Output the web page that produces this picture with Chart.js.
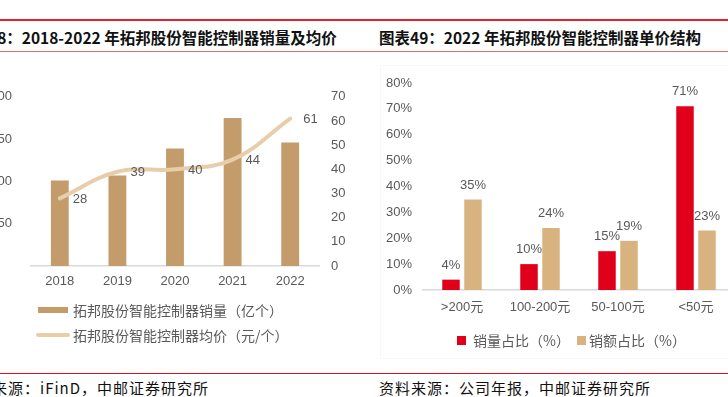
<!DOCTYPE html>
<html>
<head>
<meta charset="utf-8">
<script src="https://cdn.jsdelivr.net/npm/chart.js@4.4.0/dist/chart.umd.min.js"></script>
<style>
  body { margin: 0; width: 728px; height: 397px; overflow: hidden; background: #fff; position: relative;
         font-family: "Noto Sans CJK SC", sans-serif; }
  .rule { position: absolute; left: 0; width: 728px; }
  .title { position: absolute; top: 27px; line-height: 20px; font-size: 15.5px; font-weight: bold; color: #111; white-space: nowrap; }
  .src { position: absolute; top: 379px; line-height: 18px; font-size: 15px; color: #111; letter-spacing: 1px; white-space: nowrap; }
  .lg { position: absolute; font-size: 14px; line-height: 18px; color: #595959; white-space: nowrap; }
  .sw { position: absolute; }
  canvas { position: absolute; }
</style>
</head>
<body>
<div class="rule" style="top:19px;height:2px;background:#E2232C"></div>
<div class="rule" style="top:51px;height:1px;background:#E46A6F"></div>
<div class="rule" style="top:373px;height:1px;background:#D9141E"></div>

<div class="title" style="left:-43px">图表48：2018-2022 年拓邦股份智能控制器销量及均价</div>
<div class="title" style="left:379px">图表49：2022 年拓邦股份智能控制器单价结构</div>

<div style="position:absolute;left:380px;top:65px;width:400px;height:292px;border:1px solid #F8F8F8"></div>

<div class="wrap" style="position:absolute;left:-30px;top:70px;width:390px;height:225px">
  <canvas id="chart-volume"></canvas>
</div>
<div class="wrap" style="position:absolute;left:364px;top:60px;width:380px;height:260px">
  <canvas id="chart-structure"></canvas>
</div>

<div class="sw" style="left:38px;top:307px;width:30px;height:6px;background:#C49C6C"></div>
<div class="lg" style="left:73px;top:301px">拓邦股份智能控制器销量（亿个）</div>
<div class="sw" style="left:36px;top:333px;width:34px;height:4px;border-radius:2px;background:#E8CDAA"></div>
<div class="lg" style="left:73px;top:326px">拓邦股份智能控制器均价（元/个）</div>

<div class="sw" style="left:457px;top:336px;width:9px;height:9px;background:#E0001B"></div>
<div class="lg" style="left:473px;top:331px">销量占比（%）</div>
<div class="sw" style="left:577px;top:336px;width:9px;height:9px;background:#D9B37F"></div>
<div class="lg" style="left:589px;top:331px">销额占比（%）</div>

<div class="src" style="left:-40px">资料来源：iFinD，中邮证券研究所</div>
<div class="src" style="left:379px">资料来源：公司年报，中邮证券研究所</div>

<script>
const years = ["2018", "2019", "2020", "2021", "2022"];
const salesVolume = [101, 107, 139, 175, 146];   // 亿个
const avgPrice = [28, 39, 40, 44, 61];            // 元/个

const priceBands = [">200元", "100-200元", "50-100元", "<50元"];
const volumeShare = [4, 10, 15, 71];
const revenueShare = [35, 24, 19, 23];

const tickFont = { family: "'Liberation Sans', 'Noto Sans CJK SC', sans-serif", size: 13 };
const grey = "#595959";

// draws the value next to line points / above bars
const valueLabels = {
  id: "valueLabels",
  afterDatasetsDraw(chart) {
    const ctx = chart.ctx;
    ctx.save();
    ctx.fillStyle = grey;
    ctx.font = "13px 'Liberation Sans', sans-serif";
    chart.data.datasets.forEach((ds, i) => {
      if (!ds.showValue) return;
      chart.getDatasetMeta(i).data.forEach((el, j) => {
        const txt = ds.data[j] + (ds.suffix || "");
        if (ds.type === "line") {
          ctx.textAlign = "left";
          ctx.textBaseline = "middle";
          ctx.fillText(txt, el.x + 13, el.y + 1);
        } else {
          ctx.textAlign = "center";
          ctx.textBaseline = "bottom";
          ctx.fillText(txt, el.x, el.y - 8);
        }
      });
    });
    ctx.restore();
  }
};

Chart.defaults.animation = false;
Chart.defaults.responsive = true;
Chart.defaults.maintainAspectRatio = false;

new Chart(document.getElementById("chart-volume"), {
  type: "bar",
  data: {
    labels: years,
    datasets: [
      {
        type: "line",
        label: "拓邦股份智能控制器均价（元/个）",
        data: avgPrice,
        yAxisID: "y1",
        borderColor: "#E8CDAA",
        borderWidth: 4,
        borderCapStyle: "round",
        pointRadius: 0,
        tension: 0.4,
        order: 0,
        showValue: true,
      },
      {
        label: "拓邦股份智能控制器销量（亿个）",
        data: salesVolume,
        yAxisID: "y",
        backgroundColor: "#C49C6C",
        categoryPercentage: 1,
        barPercentage: 0.31,
        order: 1,
      },
    ],
  },
  options: {
    layout: { padding: { top: 20, right: 0, left: 0, bottom: 0 } },
    plugins: { legend: { display: false }, tooltip: { enabled: false } },
    scales: {
      x: {
        grid: { display: false, drawTicks: false },
        border: { color: "#D9D9D9", width: 1.5 },
        ticks: { color: grey, font: tickFont, padding: 8 },
        afterFit: s => { s.height = 29; },
      },
      y: {
        position: "left",
        min: 0, max: 200,
        grid: { display: false, drawTicks: false },
        border: { display: false },
        ticks: { stepSize: 50, color: grey, font: tickFont, padding: 19,
                 callback: v => (v === 0 ? "" : v) },
        afterFit: s => { s.width = 61; },
      },
      y1: {
        position: "right",
        min: 0, max: 70,
        grid: { display: false, drawTicks: false },
        border: { display: false },
        ticks: { stepSize: 10, color: grey, font: tickFont, padding: 12 },
        afterFit: s => { s.width = 41; },
      },
    },
  },
  plugins: [valueLabels],
});

new Chart(document.getElementById("chart-structure"), {
  type: "bar",
  data: {
    labels: priceBands,
    datasets: [
      {
        label: "销量占比（%）",
        data: volumeShare,
        backgroundColor: "#E0001B",
        showValue: true,
        suffix: "%",
      },
      {
        label: "销额占比（%）",
        data: revenueShare,
        backgroundColor: "#D9B37F",
        showValue: true,
        suffix: "%",
      },
    ],
  },
  options: {
    categoryPercentage: 0.564,
    barPercentage: 0.795,
    layout: { padding: { top: 23, right: 9, left: 0, bottom: 0 } },
    plugins: { legend: { display: false }, tooltip: { enabled: false } },
    scales: {
      x: {
        grid: { display: false, drawTicks: false },
        border: { color: "#D9D9D9", width: 1.5 },
        ticks: { color: grey, font: tickFont, padding: 10 },
        afterFit: s => { s.height = 30; },
      },
      y: {
        min: 0, max: 80,
        grid: { display: false, drawTicks: false },
        border: { display: false },
        ticks: { stepSize: 10, color: grey, font: tickFont, padding: 11,
                 callback: v => v + "%" },
        afterFit: s => { s.width = 59; },
      },
    },
  },
  plugins: [valueLabels],
});
</script>
</body>
</html>
